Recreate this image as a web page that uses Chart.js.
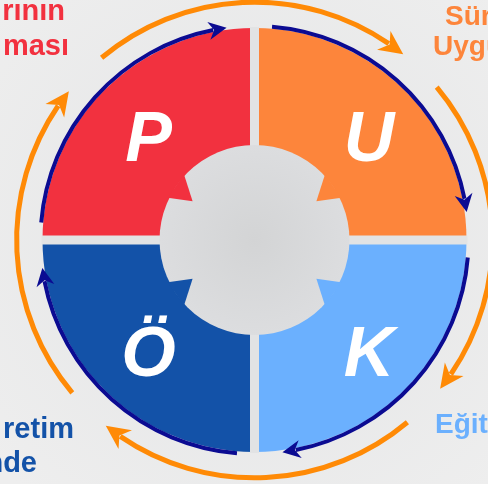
<!DOCTYPE html>
<html>
<head>
<meta charset="utf-8">
<script src="https://cdn.jsdelivr.net/npm/chart.js@4.4.0/dist/chart.umd.min.js"></script>
<style>
html,body{margin:0;padding:0;background:#eaebec;}
#wrap{width:488px;height:484px;position:relative;}
</style>
</head>
<body>
<div id="wrap"><canvas id="puko"></canvas></div>
<script>
var labels = ['P', 'U', 'K', 'Ö'];
var values = [25, 25, 25, 25];
var colors = ['#f2313f', '#fd853b', '#6bb0fe', '#1352a8'];
var sideText = ['rının', 'ması', 'Sürecin', 'Uygulanması', 'Eğitim', 'retim', 'nde'];
var sideColor = ['#f2313f', '#f2313f', '#fd853b', '#fd853b', '#6bb0fe', '#1352a8', '#1352a8'];

var deg = Math.PI / 180;
var navy = '#0b0b92';
var orange = '#ff8a06';
var font = '"Liberation Sans", Arial, sans-serif';

function arrowHead(ctx, x, y, dir, len, wid, color) {
    ctx.save();
    ctx.translate(x, y);
    ctx.rotate(dir);
    ctx.beginPath();
    ctx.moveTo(0, 0);
    ctx.lineTo(-len, -wid / 2);
    ctx.lineTo(-len * 0.7, 0);
    ctx.lineTo(-len, wid / 2);
    ctx.closePath();
    ctx.fillStyle = color;
    ctx.fill();
    ctx.restore();
}

// arc going clockwise from a0 to the tip a1, arrow at the tip
function ringArrow(ctx, cx, cy, r, a0, a1, lw, len, wid, color) {
    var back = a1 - (len * 0.75) / r;
    ctx.beginPath();
    ctx.arc(cx, cy, r, a0, back);
    ctx.strokeStyle = color;
    ctx.lineWidth = lw;
    ctx.lineCap = 'butt';
    ctx.stroke();
    var tx = cx + Math.cos(a1) * r, ty = cy + Math.sin(a1) * r;
    var dir = a1 + Math.PI / 2 - (len / 2) / r;
    arrowHead(ctx, tx, ty, dir, len, wid, color);
}

var bgPlugin = {
    id: 'bg',
    beforeDraw: function(chart) {
        var ctx = chart.ctx;
        var g = ctx.createRadialGradient(254, 240, 0, 254, 240, 340);
        g.addColorStop(0, '#e3e4e5');
        g.addColorStop(1, '#eeeeee');
        ctx.save();
        ctx.fillStyle = g;
        ctx.fillRect(0, 0, chart.width, chart.height);
        ctx.restore();
    }
};

var wheelPlugin = {
    id: 'wheel',
    afterDatasetsDraw: function(chart) {
        var ctx = chart.ctx;
        var arcs = chart.getDatasetMeta(0).data;
        var cx = arcs[0].x, cy = arcs[0].y, R = arcs[0].outerRadius;
        ctx.save();

        // gap cross between the quarters
        ctx.save();
        ctx.beginPath();
        ctx.arc(cx, cy, R + 1, 0, Math.PI * 2);
        ctx.clip();
        ctx.fillStyle = '#e2e3e4';
        ctx.fillRect(cx - 4.5, cy - R - 2, 9, 2 * R + 4);
        ctx.fillRect(cx - R - 2, cy - 4.5, 2 * R + 4, 9);
        ctx.restore();

        arcs.forEach(function(a, i) {
            // navy arrow along the edge of each quarter
            ringArrow(ctx, cx, cy, R + 2, a.startAngle + 4.7 * deg, a.startAngle + 82.5 * deg, 4, 18, 18, navy);
            // orange arrow outside, centred on the end of each quarter
            ringArrow(ctx, cx, cy, R * 1.122, a.endAngle - 40 * deg, a.endAngle + 38.7 * deg, 5, 24, 23, orange);
        });

        // grey centre with notches
        var rc = R * 0.448;
        var g = ctx.createRadialGradient(cx, cy, 0, cx, cy, rc);
        g.addColorStop(0, '#d3d4d5');
        g.addColorStop(1, '#dcdddf');
        ctx.beginPath();
        ctx.arc(cx, cy, rc, 0, Math.PI * 2);
        ctx.fillStyle = g;
        ctx.fill();

        arcs.forEach(function(a, i) {
            var h = Math.abs(Math.sin(a.startAngle)) < 0.01 ? a.startAngle : a.endAngle;
            var mid = (a.startAngle + a.endAngle) / 2;
            var s = mid > h ? 1 : -1;
            var pts = [[h + s * 43 * deg, rc + 1.5], [h + s * 32 * deg, rc - 22], [h + s * 26 * deg, rc + 1.5]];
            ctx.beginPath();
            pts.forEach(function(p, k) {
                var x = cx + Math.cos(p[0]) * p[1], y = cy + Math.sin(p[0]) * p[1];
                if (k == 0) ctx.moveTo(x, y); else ctx.lineTo(x, y);
            });
            ctx.closePath();
            ctx.fillStyle = colors[i];
            ctx.fill();
        });

        // letters
        ctx.fillStyle = '#ffffff';
        ctx.font = 'italic bold 70px ' + font;
        ctx.textAlign = 'center';
        ctx.textBaseline = 'middle';
        arcs.forEach(function(a, i) {
            var mid = (a.startAngle + a.endAngle) / 2;
            var x = cx + (Math.cos(mid) < 0 ? -0.5 : 0.54) * R;
            var y = cy + (Math.sin(mid) < 0 ? -0.462 : 0.552) * R;
            ctx.fillText(labels[i], x, y);
        });

        // side captions, cut by the canvas edge
        ctx.textBaseline = 'alphabetic';
        var pos = [[65, 20, 'right', 29], [69, 55, 'right', 29], [445, 25, 'left', 28], [433, 55, 'left', 28],
                   [435, 433, 'left', 28], [74, 438, 'right', 29], [37, 472, 'right', 29]];
        sideText.forEach(function(t, i) {
            ctx.font = 'bold ' + pos[i][3] + 'px ' + font;
            ctx.textAlign = pos[i][2];
            ctx.fillStyle = sideColor[i];
            ctx.fillText(t, pos[i][0], pos[i][1]);
        });
        ctx.restore();
    }
};

new Chart(document.getElementById('puko'), {
    type: 'pie',
    data: {
        labels: labels,
        datasets: [{
            data: values,
            backgroundColor: colors,
            borderWidth: 0
        }]
    },
    options: {
        responsive: true,
        maintainAspectRatio: false,
        animation: false,
        rotation: -90,
        radius: 212,
        layout: {padding: {left: 21, right: 0, top: 0, bottom: 4}},
        plugins: {
            legend: {display: false},
            tooltip: {enabled: false}
        }
    },
    plugins: [bgPlugin, wheelPlugin]
});
</script>
</body>
</html>
